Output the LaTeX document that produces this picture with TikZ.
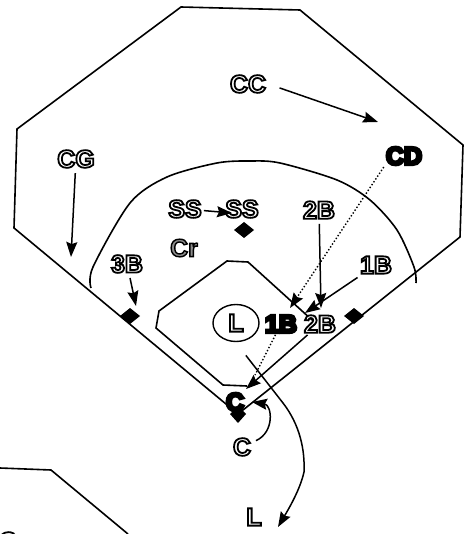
\documentclass[tikz,border=0pt]{standalone}
\usepackage{fontspec}
\setmainfont{Liberation Sans}
\usepackage{tikz}
\usetikzlibrary{arrows.meta,shapes.geometric}
% Letters drawn as an outline with a chosen fill
\newcommand{\outl}[3]{\special{pdf:code q 2 Tr #2 rg 0 0 0 RG #1 w}#3\special{pdf:code Q}}
\tikzset{
    %Define standard arrow tip
    >={Stealth[length=15pt,width=11pt,inset=2pt]},
    %Define style for labels
    player/.style={
           font=\fontsize{25}{25}\selectfont\bfseries,
           inner sep=2pt,
           text centered},
    % Define style for base markers
    bag/.style={
           fill=black,
           inner sep=0pt},
    % Define arrow style
    pil/.style={
           ->,
           line width=1.5pt,
           shorten <=3pt},
    trail/.style={
           line width=1.4pt,
           dotted},
    field/.style={
           line width=1.6pt,
           line join=miter}
}
\newcommand{\hollow}[1]{\outl{1.8}{1 1 1}{#1}}
\newcommand{\solid}[1]{\outl{3}{0 0 0}{#1}}
\begin{document}
\begin{tikzpicture}[x=1pt,y=-1pt]
\useasboundingbox (0,0) rectangle (474,534);
% field lines
\coordinate (home) at (238,414);
\draw[field] (181,7) -- (300,10) -- (463,145) -- (460,237) -- (home)
   -- (14,228) -- (17,129) -- cycle;
\draw[field] (247,386) -- (223,385) -- (156,328) -- (159,311) -- (227,261)
   -- (248,262) -- (312,320);
\draw[field] plot[smooth] coordinates {(91,288) (93,267) (130,203) (167,177)
   (217,163) (250,161) (280,163) (337,180) (370,200) (397,230) (414,267) (416,283)};
\draw[field] (0,468) -- (51,470) -- (128,534);
% bases
\fill[bag] (244,222) -- (254,230) -- (244,238) -- (234,230) -- cycle;
\fill[bag] (130,308) -- (140,316) -- (130,324) -- (120,316) -- cycle;
\fill[bag] (354,308) -- (364,316) -- (354,324) -- (344,316) -- cycle;
\fill[bag] (238,406) -- (246,414) -- (238,423) -- (230,414) -- cycle;
% labels
\node[player](cc) at (248,84){\hollow{CC}};
\node[player](cd) at (404,156){\solid{CD}};
\node[player](cg) at (76,159){\hollow{CG}};
\node[player](ss) at (185,209){\hollow{SS}};
\node[player](ssb) at (242,209){\hollow{SS}};
\node[player](cr) at (184,248){\outl{1.4}{0.55 0.55 0.55}{Cr}};
\node[player](twob) at (319,210){\hollow{2B}};
\node[player](oneb) at (376,265){\hollow{1B}};
\node[player](threeb) at (127,264){\hollow{3B}};
\node[player,draw,ellipse,line width=1.4pt,minimum width=46pt,minimum height=37pt,inner sep=0pt](lf) at (236,323){\hollow{L}};
\node[player](onebb) at (281,324){\solid{1B}};
\node[player](twobb) at (320,324){\hollow{2B}};
\node[player](ctop) at (235,402){\solid{C}};
\node[player](cbot) at (242,447){\hollow{C}};
\node[player](lbot) at (254,517){\hollow{L}};
\node[player](cclip) at (8,541){\hollow{C}};
% ends of the arrows
\coordinate (tipcc) at (378,122);
\coordinate (tipcg) at (71,257);
\coordinate (tipss) at (232,213);
\coordinate (tipthree) at (136,306);
\coordinate (tiptwo) at (321,308);
\coordinate (tipone) at (305,313);
\coordinate (tipcd) at (290,308);
\coordinate (tipc) at (246,389);
\coordinate (tipdot) at (255,375);
\coordinate (tiphome) at (252,402);
\coordinate (tipl) at (278,527);
\coordinate (startl) at (244,353);
\draw[pil,shorten <=12pt] (cc.east) -- (tipcc);
\draw[pil] (cg) -- (tipcg);
\draw[pil,shorten <=0pt] (ss) -- (tipss);
\draw[pil] (threeb) -- (tipthree);
\draw[pil] (twob) -- (tiptwo);
\draw[pil] (oneb) -- (tipone);
\draw[trail,->] (cd.south west) -- (tipcd);
\draw[trail] (onebb) -- (tipdot);
\draw[pil,shorten <=0pt] (twobb) -- (tipc);
\draw[pil] (cbot) .. controls (275,432) and (272,405) .. (tiphome);
\draw[pil] (startl) -- (283,403) .. controls (300,425) and (305,450) .. (304,472)
   .. controls (300,490) and (288,510) .. (tipl);
\end{tikzpicture}
\end{document}
